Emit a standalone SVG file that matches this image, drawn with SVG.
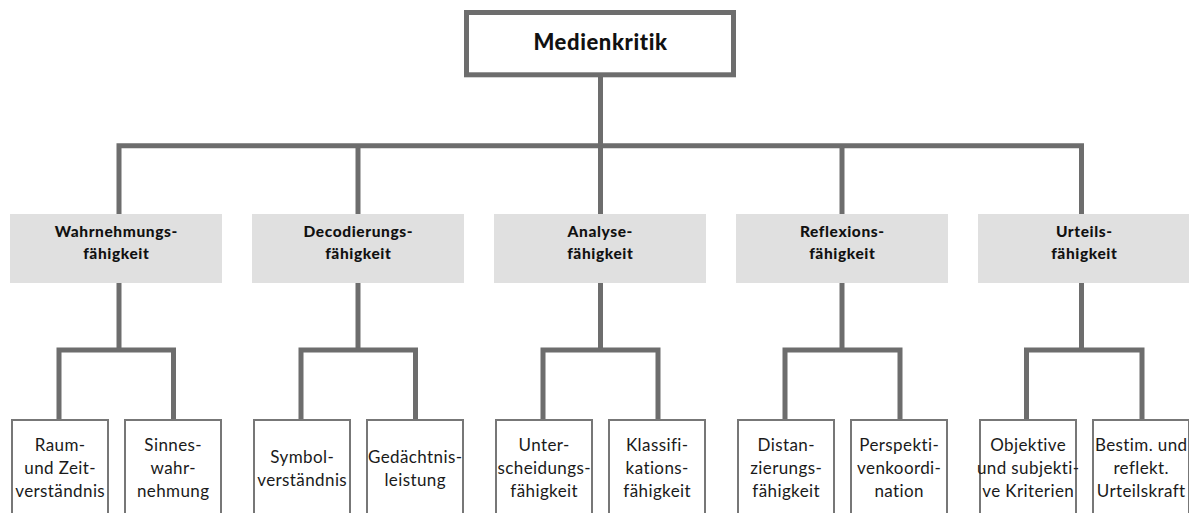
<svg xmlns="http://www.w3.org/2000/svg" width="1189" height="513" viewBox="0 0 1189 513">
<style>
.conn{fill:none;stroke:#6d6d6d;stroke-width:5;stroke-linejoin:miter}
.root{fill:#fff;stroke:#6d6d6d;stroke-width:5}
.cat{fill:#e0e0e0}
.leaf{fill:#fff;stroke:#777;stroke-width:2}
text{font-family:Lato,"Open Sans","DejaVu Sans",sans-serif;text-anchor:middle;fill:#111}
.tr{font-size:22px;font-weight:900;letter-spacing:0.6px}
.tc{font-size:15.5px;font-weight:900;letter-spacing:0.6px}
.tl{font-size:17px;font-weight:400;letter-spacing:0.4px;fill:#1a1a1a}
</style>
<rect width="1189" height="513" fill="#fff"/>
<g id="connectors">
<path class="conn" d="M600.5 77 V145.8"/>
<path class="conn" d="M119 214 V145.8 H1081.5 V214"/>
<path class="conn" d="M358 145.8 V214"/>
<path class="conn" d="M600.5 145.8 V214"/>
<path class="conn" d="M842 145.8 V214"/>
<path class="conn" d="M119 283 V350"/>
<path class="conn" d="M59 419 V350 H173.5 V419"/>
<path class="conn" d="M358 283 V350"/>
<path class="conn" d="M301 419 V350 H415.5 V419"/>
<path class="conn" d="M600.5 283 V350"/>
<path class="conn" d="M543 419 V350 H658 V419"/>
<path class="conn" d="M842 283 V350"/>
<path class="conn" d="M785 419 V350 H900 V419"/>
<path class="conn" d="M1081.5 283 V350"/>
<path class="conn" d="M1026.5 419 V350 H1142 V419"/>
</g>
<g id="root">
<rect class="root" x="466.5" y="12.5" width="267" height="62.3"/>
<text class="tr" x="600.5" y="50">Medienkritik</text>
</g>
<g id="cat-wahrnehmung">
<rect class="cat" x="10" y="214" width="212" height="69"/>
<text class="tc" x="116.3" y="237">Wahrnehmungs-</text>
<text class="tc" x="116.3" y="259">fähigkeit</text>
</g>
<g id="cat-decodierung">
<rect class="cat" x="252" y="214" width="212" height="69"/>
<text class="tc" x="358.3" y="237">Decodierungs-</text>
<text class="tc" x="358.3" y="259">fähigkeit</text>
</g>
<g id="cat-analyse">
<rect class="cat" x="494" y="214" width="212" height="69"/>
<text class="tc" x="600.3" y="237">Analyse-</text>
<text class="tc" x="600.3" y="259">fähigkeit</text>
</g>
<g id="cat-reflexion">
<rect class="cat" x="736" y="214" width="212" height="69"/>
<text class="tc" x="842.3" y="237">Reflexions-</text>
<text class="tc" x="842.3" y="259">fähigkeit</text>
</g>
<g id="cat-urteil">
<rect class="cat" x="978" y="214" width="212" height="69"/>
<text class="tc" x="1084.3" y="237">Urteils-</text>
<text class="tc" x="1084.3" y="259">fähigkeit</text>
</g>
<g id="leaf-raum">
<rect class="leaf" x="12" y="420" width="96" height="120"/>
<text class="tl" x="60.2" y="451">Raum-</text>
<text class="tl" x="60.2" y="474">und Zeit-</text>
<text class="tl" x="60.2" y="497">verständnis</text>
</g>
<g id="leaf-sinnes">
<rect class="leaf" x="125" y="420" width="96" height="120"/>
<text class="tl" x="173.2" y="451">Sinnes-</text>
<text class="tl" x="173.2" y="474">wahr-</text>
<text class="tl" x="173.2" y="497">nehmung</text>
</g>
<g id="leaf-symbol">
<rect class="leaf" x="254" y="420" width="96" height="120"/>
<text class="tl" x="302.2" y="463">Symbol-</text>
<text class="tl" x="302.2" y="486">verständnis</text>
</g>
<g id="leaf-gedaechtnis">
<rect class="leaf" x="367" y="420" width="96" height="120"/>
<text class="tl" x="415.2" y="463">Gedächtnis-</text>
<text class="tl" x="415.2" y="486">leistung</text>
</g>
<g id="leaf-unterscheidung">
<rect class="leaf" x="496" y="420" width="96" height="120"/>
<text class="tl" x="544.2" y="451">Unter-</text>
<text class="tl" x="544.2" y="474">scheidungs-</text>
<text class="tl" x="544.2" y="497">fähigkeit</text>
</g>
<g id="leaf-klassifikation">
<rect class="leaf" x="609" y="420" width="96" height="120"/>
<text class="tl" x="657.2" y="451">Klassifi-</text>
<text class="tl" x="657.2" y="474">kations-</text>
<text class="tl" x="657.2" y="497">fähigkeit</text>
</g>
<g id="leaf-distanzierung">
<rect class="leaf" x="738" y="420" width="96" height="120"/>
<text class="tl" x="786.2" y="451">Distan-</text>
<text class="tl" x="786.2" y="474">zierungs-</text>
<text class="tl" x="786.2" y="497">fähigkeit</text>
</g>
<g id="leaf-perspektive">
<rect class="leaf" x="851" y="420" width="96" height="120"/>
<text class="tl" x="899.2" y="451">Perspekti-</text>
<text class="tl" x="899.2" y="474">venkoordi-</text>
<text class="tl" x="899.2" y="497">nation</text>
</g>
<g id="leaf-kriterien">
<rect class="leaf" x="980" y="420" width="96" height="120"/>
<text class="tl" x="1028.2" y="451">Objektive</text>
<text class="tl" x="1028.2" y="474">und subjekti-</text>
<text class="tl" x="1028.2" y="497">ve Kriterien</text>
</g>
<g id="leaf-urteilskraft">
<rect class="leaf" x="1093" y="420" width="96" height="120"/>
<text class="tl" x="1141.2" y="451">Bestim. und</text>
<text class="tl" x="1141.2" y="474">reflekt.</text>
<text class="tl" x="1141.2" y="497">Urteilskraft</text>
</g>
</svg>
